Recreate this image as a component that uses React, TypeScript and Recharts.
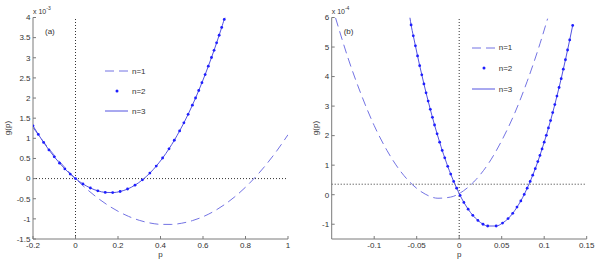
import React from "react";
import { LineChart, Line, XAxis, YAxis, ReferenceLine, Legend } from "recharts";

const FONT = "'Liberation Sans', Arial, sans-serif";
const seriesNames = ["n=1", "n=2", "n=3"];

// panel (a): g(p) in units of 1e-3
const aP1 = [-0.2, -0.15, -0.1, -0.05, 0, 0.05, 0.1, 0.15, 0.2, 0.25, 0.3, 0.35, 0.4, 0.45, 0.5, 0.55, 0.6, 0.65, 0.7, 0.75, 0.8, 0.85, 0.9, 0.95, 1];
const aG1 = [1.27, 0.91, 0.58, 0.275, 0, -0.247, -0.465, -0.653, -0.811, -0.939, -1.036, -1.102, -1.136, -1.138, -1.108, -1.044, -0.947, -0.816, -0.65, -0.45, -0.214, 0.057, 0.365, 0.709, 1.09];
const aP2 = [-0.2, -0.175, -0.15, -0.125, -0.1, -0.075, -0.05, -0.025, 0, 0.035, 0.07, 0.105, 0.14, 0.175, 0.21, 0.245, 0.28, 0.315, 0.35, 0.38, 0.41, 0.44, 0.465, 0.49, 0.51, 0.53, 0.55, 0.565, 0.58, 0.595, 0.61, 0.625, 0.64, 0.652, 0.664, 0.676, 0.688, 0.7];
const aG2 = [1.31, 1.097, 0.898, 0.712, 0.541, 0.384, 0.241, 0.113, 0, -0.132, -0.234, -0.304, -0.343, -0.348, -0.321, -0.259, -0.163, -0.031, 0.137, 0.31, 0.511, 0.74, 0.952, 1.184, 1.384, 1.597, 1.823, 2.001, 2.187, 2.381, 2.582, 2.791, 3.007, 3.186, 3.37, 3.559, 3.753, 3.952];
const aP3 = [...aP2, 0.704];
const aG3 = [...aG2, 4.0];
const aTicksX = [-0.2, 0, 0.2, 0.4, 0.6, 0.8, 1];
const aTicksY = [-1.5, -1, -0.5, 0, 0.5, 1, 1.5, 2, 2.5, 3, 3.5, 4];

// panel (b): g(p) in units of 1e-4
const bP1 = [-0.1455, -0.13, -0.115, -0.1, -0.085, -0.07, -0.055, -0.04, -0.025, -0.01, 0.005, 0.02, 0.035, 0.05, 0.065, 0.08, 0.095, 0.104];
const bG1 = [5.99, 4.56, 3.37, 2.34, 1.5, 0.83, 0.34, 0.02, -0.12, -0.08, 0.13, 0.52, 1.08, 1.83, 2.74, 3.84, 5.11, 5.96];
const bP2 = [-0.0566, -0.054, -0.0515, -0.049, -0.0465, -0.044, -0.0415, -0.039, -0.0365, -0.034, -0.0315, -0.029, -0.026, -0.023, -0.02, -0.017, -0.0135, -0.01, -0.0065, -0.003, 0.001, 0.0055, 0.0105, 0.016, 0.022, 0.028, 0.0335, 0.0435, 0.051, 0.0575, 0.063, 0.068, 0.0725, 0.0765, 0.08, 0.0835, 0.0865, 0.0895, 0.0925, 0.095, 0.0975, 0.1, 0.1025, 0.105, 0.1075, 0.11, 0.1125, 0.115, 0.1175, 0.12, 0.1225, 0.125, 0.1275, 0.13, 0.1335];
const bG2 = [5.75, 5.38, 5.04, 4.7, 4.37, 4.06, 3.75, 3.45, 3.17, 2.89, 2.62, 2.36, 2.06, 1.78, 1.5, 1.25, 0.96, 0.7, 0.45, 0.22, -0.02, -0.26, -0.49, -0.7, -0.87, -1.0, -1.06, -1.06, -0.96, -0.81, -0.63, -0.42, -0.21, 0.01, 0.22, 0.45, 0.66, 0.88, 1.12, 1.33, 1.55, 1.78, 2.01, 2.26, 2.51, 2.78, 3.05, 3.34, 3.63, 3.93, 4.25, 4.57, 4.9, 5.24, 5.73];
const bP3 = [-0.058, ...bP2];
const bG3 = [6.0, ...bG2];
const bTicksX = [-0.1, -0.05, 0, 0.05, 0.1, 0.15];
const bTicksY = [-1, 0, 1, 2, 3, 4, 5, 6];

const toRows = (p: number[], g: number[]) => p.map((x, i) => ({ p: x, g: g[i] }));

const C1 = "#7373e3";
const C2 = "#1e1eff";
const C3 = "#5252e0";
const AXIS = "#7a7a7a";

function LegendBox({ row }: { row: number }) {
  return (
    <div style={{ fontFamily: FONT, fontSize: 8, color: "#333" }}>
      {seriesNames.map((name, i) => (
        <div key={name} style={{ display: "flex", alignItems: "center", height: row }}>
          <svg width={27} height={6} style={{ display: "block" }}>
            {i === 0 && <line x1={0} y1={3} x2={23} y2={3} stroke={C1} strokeDasharray="9 5" />}
            {i === 1 && <circle cx={12} cy={3} r={1.5} fill={C2} />}
            {i === 2 && <line x1={0} y1={3} x2={23} y2={3} stroke={C3} />}
          </svg>
          <span>{name}</span>
        </div>
      ))}
    </div>
  );
}

type PanelProps = {
  s1: { p: number; g: number }[];
  s2: { p: number; g: number }[];
  s3: { p: number; g: number }[];
  xDomain: [number, number];
  xTicks: number[];
  yDomain: [number, number];
  yTicks: number[];
  hRef: number;
  left: number;
  right: number;
  legendLeft: number;
  legendTop: number;
  legendRow: number;
  tag: string;
  exponent: string;
  yLabelX: number;
};

function Panel(props: PanelProps) {
  const { left, right } = props;
  const tickStyle = { fontSize: 8, fill: "#333", fontFamily: FONT };
  const center = (left + 300 - right) / 2;
  return (
    <div style={{ position: "relative", width: 300, height: 264 }}>
      <LineChart width={300} height={264} margin={{ top: 17.5, right, bottom: 0, left: 0 }}>
        <XAxis xAxisId="b" type="number" dataKey="p" domain={props.xDomain} ticks={props.xTicks} allowDataOverflow
          interval={0} height={25} tickSize={-3} tickMargin={6} stroke={AXIS} tick={tickStyle} />
        <XAxis xAxisId="t" orientation="top" type="number" dataKey="p" domain={props.xDomain} ticks={props.xTicks}
          allowDataOverflow interval={0} height={0} tickSize={-3} stroke={AXIS} tickFormatter={() => ""} />
        <YAxis yAxisId="l" type="number" domain={props.yDomain} ticks={props.yTicks} allowDataOverflow
          interval={0} width={left} tickSize={-3} tickMargin={5.5} stroke={AXIS} tick={tickStyle} />
        <YAxis yAxisId="r" orientation="right" type="number" domain={props.yDomain} ticks={props.yTicks}
          allowDataOverflow interval={0} width={0} tickSize={-3} stroke={AXIS} tickFormatter={() => ""} />
        <ReferenceLine xAxisId="b" yAxisId="l" y={props.hRef} stroke="#333" strokeDasharray="1 2" />
        <ReferenceLine xAxisId="b" yAxisId="l" x={0} stroke="#333" strokeDasharray="1 2" />
        <Line xAxisId="b" yAxisId="l" data={props.s1} dataKey="g" name="n=1" type="monotone" stroke={C1}
          strokeDasharray="9 5" strokeWidth={1} dot={false} isAnimationActive={false} />
        <Line xAxisId="b" yAxisId="l" data={props.s3} dataKey="g" name="n=3" type="monotone" stroke={C3}
          strokeWidth={1} dot={false} isAnimationActive={false} />
        <Line xAxisId="b" yAxisId="l" data={props.s2} dataKey="g" name="n=2" type="monotone" stroke="none"
          dot={{ r: 1.4, fill: C2, stroke: "none" }} isAnimationActive={false} />
        <Legend layout="vertical" align="center" verticalAlign="middle"
          wrapperStyle={{ left: props.legendLeft, top: props.legendTop, width: 60 }}
          content={() => <LegendBox row={props.legendRow} />} />
      </LineChart>
      <svg width={300} height={264} style={{ position: "absolute", left: 0, top: 0, pointerEvents: "none" }}
        fontFamily={FONT} fill="#333">
        <text x={left} y={14} fontSize={7}>
          x 10<tspan dy={-4} fontSize={5}>{props.exponent}</tspan>
        </text>
        <text x={left + 12} y={34} fontSize={8}>{props.tag}</text>
        <text x={props.yLabelX} y={128} fontSize={8} textAnchor="middle" transform={`rotate(-90 ${props.yLabelX} 128)`}>g(p)</text>
        <text x={center} y={257} fontSize={8} textAnchor="middle">p</text>
      </svg>
    </div>
  );
}

export default function App() {
  return (
    <div style={{ position: "absolute", left: 0, top: 0, width: 600, height: 264, background: "#fff", display: "flex" }}>
      <Panel s1={toRows(aP1, aG1)} s2={toRows(aP2, aG2)} s3={toRows(aP3, aG3)}
        xDomain={[-0.2, 1]} xTicks={aTicksX} yDomain={[-1.5, 4]} yTicks={aTicksY} hRef={0}
        left={33} right={12} legendLeft={105} legendTop={61} legendRow={20}
        tag="(a)" exponent="-3" yLabelX={10} />
      <Panel s1={toRows(bP1, bG1)} s2={toRows(bP2, bG2)} s3={toRows(bP3, bG3)}
        xDomain={[-0.15, 0.15]} xTicks={bTicksX} yDomain={[-1.5, 6]} yTicks={bTicksY} hRef={0.355}
        left={31.7} right={13.3} legendLeft={171.7} legendTop={37.3} legendRow={20.8}
        tag="(b)" exponent="-4" yLabelX={17.5} />
    </div>
  );
}
